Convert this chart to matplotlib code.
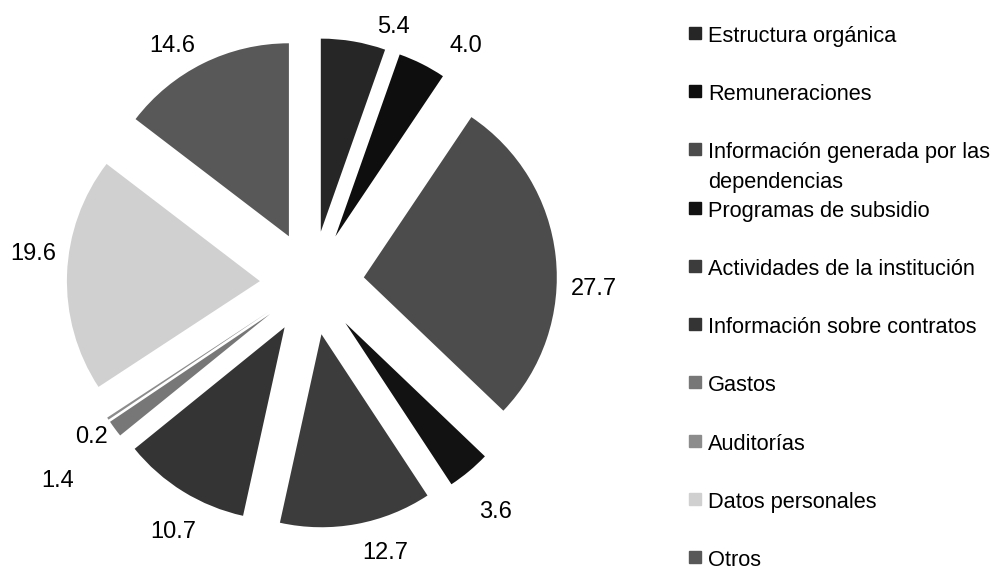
import matplotlib
matplotlib.use("Agg")
import matplotlib.pyplot as plt
from matplotlib.patches import Rectangle
import numpy as np

plt.rcParams['font.family'] = ['Liberation Sans', 'DejaVu Sans']

categories = ["Estructura orgánica", "Remuneraciones",
              "Información generada por las\ndependencias",
              "Programas de subsidio", "Actividades de la institución",
              "Información sobre contratos", "Gastos", "Auditorías",
              "Datos personales", "Otros"]
values = [5.4, 4.0, 27.7, 3.6, 12.7, 10.7, 1.4, 0.2, 19.6, 14.6]
value_labels = ["5.4", "4.0", "27.7", "3.6", "12.7", "10.7", "1.4", "0.2", "19.6", "14.6"]

# grey levels of the scanned slices
colors = ["#262626", "#0e0e0e", "#4c4c4c", "#121212", "#3c3c3c",
          "#343434", "#777777", "#8c8c8c", "#d0d0d0", "#585858"]

# where each number sits: distance from wedge centre and angle shift (deg)
label_dist = [1.127, 1.197, 1.194, 1.249, 1.181, 1.208, 1.399, 1.126, 1.184, 1.158]
label_shift = [-9.7, -7.7, -9.1, -1.4, 5.9, 3.1, 1.7, 1.6, -4.7, 5.3]

W, H = 996, 573
fig = plt.figure(figsize=(W / 100, H / 100), dpi=100)

ax = fig.add_axes([0, 0, 1, 1])
wedges, _ = ax.pie(values, colors=colors, startangle=90, counterclock=False,
                   explode=[0.27] * len(values), wedgeprops=dict(linewidth=0))
# pie centre at (312, 283) px, radius 193 px
ax.set_aspect("auto")
ax.set_xlim(-312 / 193, (W - 312) / 193)
ax.set_ylim((283 - H) / 193, 283 / 193)
ax.axis("off")

for w, lab, d, s in zip(wedges, value_labels, label_dist, label_shift):
    a = np.deg2rad((w.theta1 + w.theta2) / 2 + s)
    cx, cy = w.center
    ax.text(cx + d * np.cos(a), cy + d * np.sin(a), lab, ha="center", va="center",
            fontsize=17)

# legend drawn by hand, in pixel coordinates
lax = fig.add_axes([0, 0, 1, 1])
lax.set_xlim(0, W)
lax.set_ylim(H, 0)
lax.axis("off")
for i, (name, c) in enumerate(zip(categories, colors)):
    yb = 41.7 + i * 58.3
    lax.add_patch(Rectangle((689, yb - 15), 12, 12, color=c))
    for j, line in enumerate(name.split("\n")):
        lax.text(708, yb + j * 30, line, fontsize=15.7, ha="left", va="baseline")

fig.savefig("out.png", dpi=100)
